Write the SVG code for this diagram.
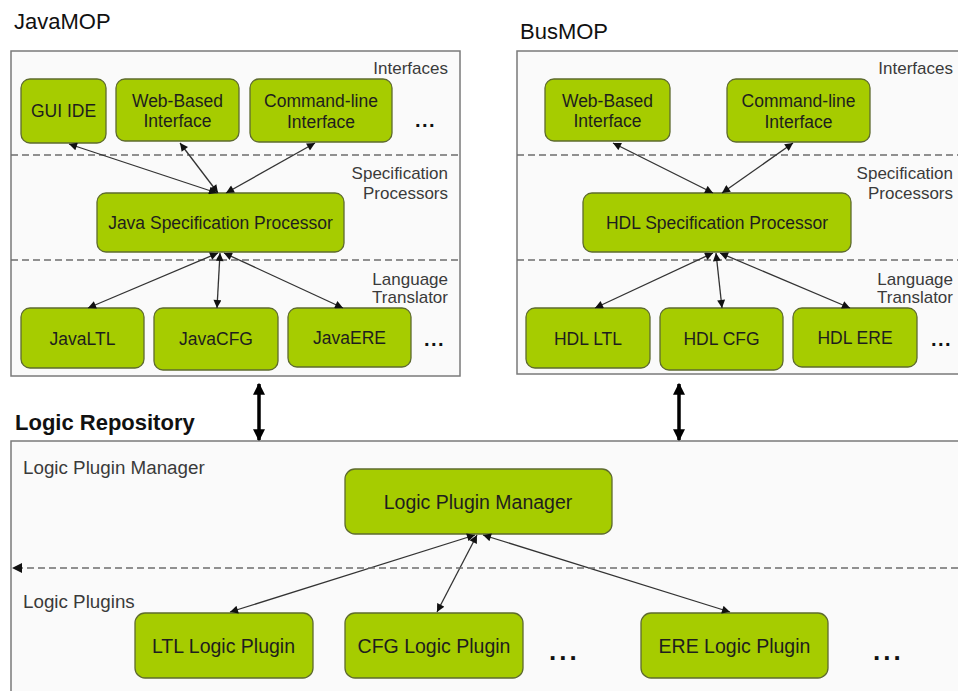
<svg xmlns="http://www.w3.org/2000/svg" width="958" height="691" viewBox="0 0 958 691">
<style>
.bg{fill:#fafafa;stroke:#7a7a7a;stroke-width:1.5}
.dash{stroke:#6e6e6e;stroke-width:1.7;stroke-dasharray:7 4;fill:none}
.node rect{fill:#a6cc00;stroke:#5e6b2e;stroke-width:1.3}
.node text{font-family:"Liberation Sans",Arial,sans-serif;font-size:17.5px;fill:#1e1e1e;text-anchor:middle}
.node text.b{font-size:19.5px}
.lbl{font-family:"Liberation Sans",Arial,sans-serif;font-size:17px;fill:#3a3a3a;text-anchor:end}
.lbl2{font-family:"Liberation Sans",Arial,sans-serif;font-size:18.8px;fill:#3a3a3a}
.title{font-family:"Liberation Sans",Arial,sans-serif;font-size:22px;fill:#111}
.dots{font-family:"Liberation Sans",Arial,sans-serif;font-weight:bold;font-size:20px;fill:#111;letter-spacing:1.5px}
.dotsb{font-family:"Liberation Sans",Arial,sans-serif;font-weight:bold;font-size:26px;fill:#111;letter-spacing:3px}
.conn line{stroke:#333;stroke-width:1.3;marker-start:url(#ah);marker-end:url(#ah)}
</style>
<defs>
<marker id="ah" viewBox="0 0 10 10" refX="10" refY="5" markerWidth="9" markerHeight="8" markerUnits="userSpaceOnUse" orient="auto-start-reverse"><path d="M0,0 L10,5 L0,10 z" fill="#111"/></marker>
<marker id="bh" viewBox="0 0 10 10" refX="9" refY="5" markerWidth="12" markerHeight="14" markerUnits="userSpaceOnUse" orient="auto-start-reverse"><path d="M0,0 L10,5 L0,10 z" fill="#000"/></marker>
<marker id="dh" viewBox="0 0 10 10" refX="10" refY="5" markerWidth="10" markerHeight="10" markerUnits="userSpaceOnUse" orient="auto"><path d="M0,0 L10,5 L0,10 z" fill="#111"/></marker>
</defs>
<rect width="958" height="691" fill="#fff"/>

<g id="javamop">
<text class="title" x="14" y="29">JavaMOP</text>
<rect class="bg" x="11" y="51" width="449" height="325"/>
<line class="dash" x1="11" y1="155" x2="460" y2="155"/>
<line class="dash" x1="11" y1="260" x2="460" y2="260"/>
<text class="lbl" x="448" y="74">Interfaces</text>
<text class="lbl" x="448" y="179">Specification</text>
<text class="lbl" x="448" y="199">Processors</text>
<text class="lbl" x="448" y="285">Language</text>
<text class="lbl" x="448" y="303">Translator</text>
<text class="dots" x="415" y="127">...</text>
<text class="dots" x="424" y="346">...</text>
</g>
<g id="busmop">
<text class="title" x="520" y="39">BusMOP</text>
<rect class="bg" x="517" y="51" width="460" height="323"/>
<line class="dash" x1="517" y1="155" x2="958" y2="155"/>
<line class="dash" x1="517" y1="260" x2="958" y2="260"/>
<text class="lbl" x="953" y="74">Interfaces</text>
<text class="lbl" x="953" y="179">Specification</text>
<text class="lbl" x="953" y="199">Processors</text>
<text class="lbl" x="953" y="285">Language</text>
<text class="lbl" x="953" y="303">Translator</text>
<text class="dots" x="931" y="346">...</text>
</g>
<g id="logicrepo">
<text class="title" x="15" y="430" font-weight="bold" font-size="19">Logic Repository</text>
<rect class="bg" x="11" y="441" width="970" height="270"/>
<text class="lbl2" x="23" y="474">Logic Plugin Manager</text>
<text class="lbl2" x="23" y="608">Logic Plugins</text>
<text class="dotsb" x="549" y="660">...</text>
<text class="dotsb" x="873" y="660">...</text>
</g>

<g id="n-guiide" class="node"><rect x="21" y="79" width="85" height="64" rx="9"/><text x="63.5" y="117">GUI IDE</text></g>
<g id="n-web1" class="node"><rect x="116" y="79" width="123" height="62" rx="9"/><text x="177.5" y="107">Web-Based</text><text x="177.5" y="127">Interface</text></g>
<g id="n-cmd1" class="node"><rect x="250" y="79" width="142" height="63" rx="9"/><text x="321" y="107">Command-line</text><text x="321" y="128">Interface</text></g>
<g id="n-javasp" class="node"><rect x="97" y="193" width="247" height="59" rx="9"/><text x="220.5" y="229">Java Specification Processor</text></g>
<g id="n-javaltl" class="node"><rect x="21" y="308" width="123" height="60" rx="9"/><text x="82.5" y="345">JavaLTL</text></g>
<g id="n-javacfg" class="node"><rect x="154" y="308" width="124" height="62" rx="9"/><text x="216" y="345">JavaCFG</text></g>
<g id="n-javaere" class="node"><rect x="288" y="308" width="123" height="59" rx="9"/><text x="349.5" y="344">JavaERE</text></g>

<g id="n-web2" class="node"><rect x="545" y="79" width="125" height="62" rx="9"/><text x="607.5" y="107">Web-Based</text><text x="607.5" y="127">Interface</text></g>
<g id="n-cmd2" class="node"><rect x="727" y="79" width="143" height="63" rx="9"/><text x="798.5" y="107">Command-line</text><text x="798.5" y="128">Interface</text></g>
<g id="n-hdlsp" class="node"><rect x="583" y="193" width="268" height="59" rx="9"/><text x="717" y="229">HDL Specification Processor</text></g>
<g id="n-hdlltl" class="node"><rect x="526" y="308" width="124" height="60" rx="9"/><text x="588" y="345">HDL LTL</text></g>
<g id="n-hdlcfg" class="node"><rect x="660" y="308" width="123" height="62" rx="9"/><text x="721.5" y="345">HDL CFG</text></g>
<g id="n-hdlere" class="node"><rect x="793" y="308" width="124" height="59" rx="9"/><text x="855" y="344">HDL ERE</text></g>

<g id="n-lpm" class="node"><rect x="345" y="469" width="267" height="65" rx="10"/><text class="b" x="478" y="508.5">Logic Plugin Manager</text></g>
<g id="n-ltl" class="node"><rect x="135" y="613" width="178" height="65" rx="10"/><text class="b" x="223.5" y="653">LTL Logic Plugin</text></g>
<g id="n-cfg" class="node"><rect x="345" y="613" width="178" height="65" rx="10"/><text class="b" x="434" y="653">CFG Logic Plugin</text></g>
<g id="n-ere" class="node"><rect x="641" y="613" width="187" height="65" rx="10"/><text class="b" x="734.5" y="653">ERE Logic Plugin</text></g>

<g id="connectors" class="conn">
<line x1="217" y1="193" x2="69" y2="144"/>
<line x1="218" y1="193" x2="180" y2="143"/>
<line x1="226" y1="193" x2="315" y2="143"/>
<line x1="218" y1="253" x2="88" y2="308"/>
<line x1="220" y1="253" x2="217" y2="308"/>
<line x1="224" y1="253" x2="343" y2="308"/>
<line x1="713" y1="193" x2="613" y2="143"/>
<line x1="722" y1="193" x2="793" y2="143"/>
<line x1="713" y1="253" x2="595" y2="308"/>
<line x1="716" y1="253" x2="722" y2="308"/>
<line x1="720" y1="253" x2="850" y2="308"/>
<line x1="475" y1="535" x2="230" y2="612"/>
<line x1="477" y1="535" x2="437" y2="612"/>
<line x1="483" y1="535" x2="730" y2="612"/>
<line x1="259" y1="384" x2="259" y2="440" style="stroke:#000;stroke-width:3.5;marker-start:url(#bh);marker-end:url(#bh)"/>
<line x1="679" y1="384" x2="679" y2="440" style="stroke:#000;stroke-width:3.5;marker-start:url(#bh);marker-end:url(#bh)"/>
<line x1="958" y1="568" x2="12" y2="568" style="stroke:#6e6e6e;stroke-width:1.7;stroke-dasharray:7 4;marker-start:none;marker-end:url(#dh)"/>
</g>
</svg>
